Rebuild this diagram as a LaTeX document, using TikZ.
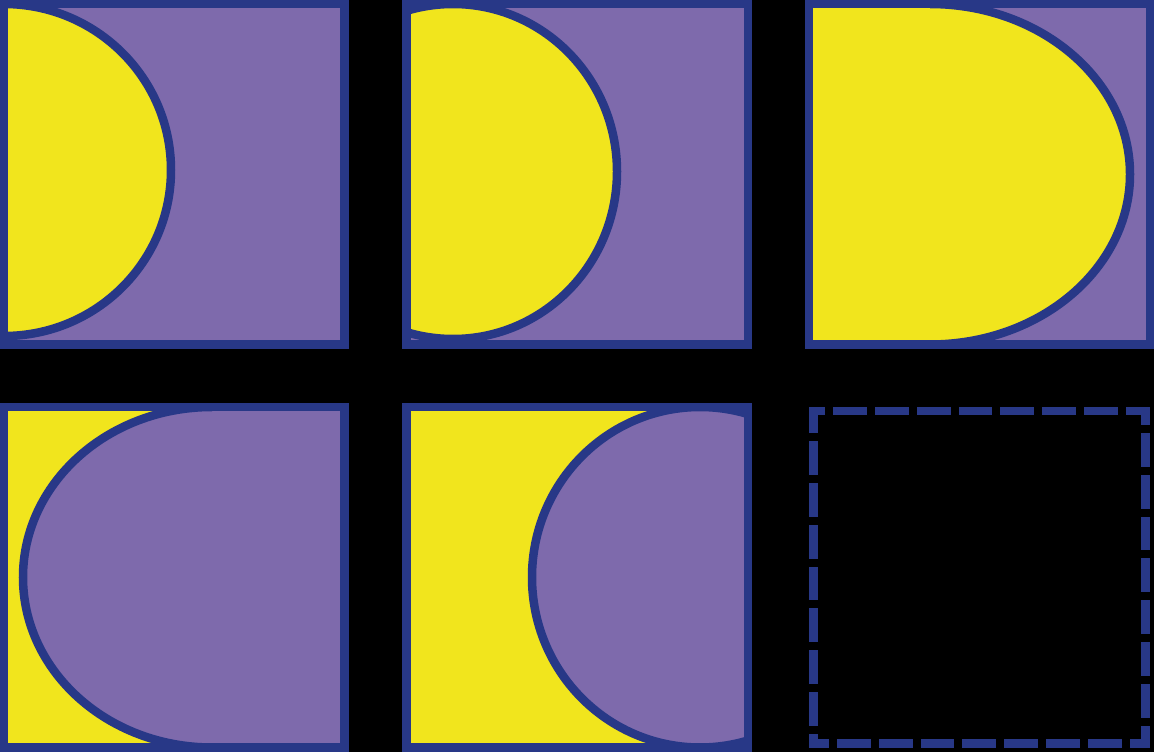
\documentclass[tikz,border=0pt]{standalone}
\definecolor{yel}{RGB}{241,229,29}
\definecolor{purp}{RGB}{126,106,172}
\definecolor{bdblue}{RGB}{40,56,135}
\tikzset{
  bd/.style={draw=bdblue, line width=8.5pt},
  yfill/.style={fill=yel},
  pfill/.style={fill=purp},
  dashbox/.style={draw=bdblue, line width=8.5pt, line cap=rect, dash pattern=on 25.3pt off 16.5pt, dash phase=14.05pt}
}
\begin{document}
\begin{tikzpicture}[x=1pt,y=-1pt]
\fill[black] (0,0) rectangle (1154,752);
\useasboundingbox (0,0) rectangle (1154,752);
% square 1
\begin{scope}
  \clip (4,4) rectangle (344.5,344.5);
  \fill[pfill] (4,4) rectangle (344.5,344.5);
  \fill[yfill] (4,170) ellipse [x radius=167, y radius=166];
  \draw[bd] (4,170) ellipse [x radius=167, y radius=166];
\end{scope}
\draw[bd] (4,4) rectangle (344.5,344.5);
% square 2
\begin{scope}
  \clip (406.5,4) rectangle (748,344.5);
  \fill[pfill] (406.5,4) rectangle (748,344.5);
  \fill[yfill] (453,171.5) ellipse [x radius=164, y radius=167.5];
  \draw[bd] (453,171.5) ellipse [x radius=164, y radius=167.5];
\end{scope}
\draw[bd] (406.5,4) rectangle (748,344.5);
% square 3
\begin{scope}
  \clip (809,4) rectangle (1150,344.5);
  \fill[pfill] (809,4) rectangle (1150,344.5);
  \fill[yfill] (809,4) rectangle (930,344.5);
  \fill[yfill] (930,174.25) ellipse [x radius=200, y radius=170.25];
  \clip (930,0) rectangle (1154,350);
  \draw[bd] (930,174.25) ellipse [x radius=200, y radius=170.25];
\end{scope}
\draw[bd] (809,4) rectangle (1150,344.5);
% square 4
\begin{scope}
  \clip (4,407) rectangle (344.5,747.5);
  \fill[yfill] (4,407) rectangle (344.5,747.5);
  \fill[pfill] (212,407) rectangle (344.5,747.5);
  \fill[pfill] (212,577.25) ellipse [x radius=189, y radius=170.25];
  \clip (0,400) rectangle (212,752);
  \draw[bd] (212,577.25) ellipse [x radius=189, y radius=170.25];
\end{scope}
\draw[bd] (4,407) rectangle (344.5,747.5);
% square 5
\begin{scope}
  \clip (406.5,407) rectangle (748,747.5);
  \fill[yfill] (406.5,407) rectangle (748,747.5);
  \fill[pfill] (700,577.25) ellipse [x radius=168, y radius=170.25];
  \draw[bd] (700,577.25) ellipse [x radius=168, y radius=170.25];
\end{scope}
\draw[bd] (406.5,407) rectangle (748,747.5);
% square 6 (dashed)
\draw[dashbox] (813.5,743.5) -- (1145.5,743.5) -- (1145.5,411) -- (813.5,411) -- cycle;
\end{tikzpicture}
\end{document}
